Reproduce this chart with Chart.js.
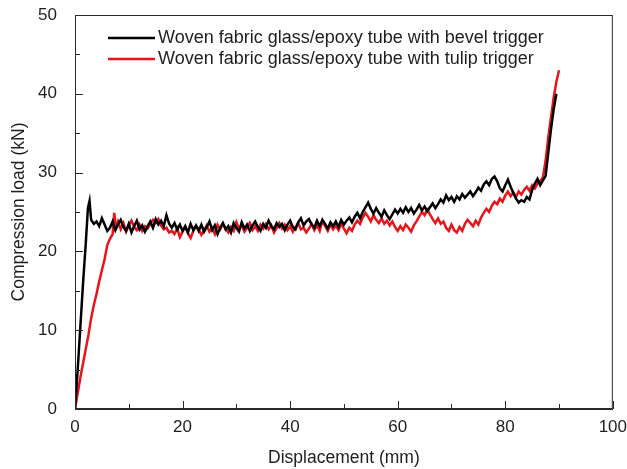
<!DOCTYPE html>
<html>
<head>
<meta charset="utf-8">
<script src="https://cdn.jsdelivr.net/npm/chart.js@4"></script>
<style>
  html, body { margin: 0; padding: 0; background: #fff; }
  #wrap { width: 627px; height: 469px; position: relative; }
</style>
</head>
<body>
<div id="wrap"><canvas id="chart"></canvas></div>
<script>
const seriesLabels = [
  'Woven fabric glass/epoxy tube with bevel trigger',
  'Woven fabric glass/epoxy tube with tulip trigger'
];

// bevel trigger: displacement (mm) / load (kN)
const dispBevel = [
  0, 0.5, 1, 1.5, 2, 2.4, 2.7, 3,
  3.5, 4, 4.5, 5, 5.5, 6, 6.5, 7, 7.5, 8,
  8.5, 9, 9.5, 10, 10.5, 11, 11.5, 12, 12.5, 13,
  13.5, 14, 14.5, 15, 15.5, 16, 16.5, 17, 17.5, 18,
  18.5, 19, 19.5, 20, 20.5, 21, 21.5, 22, 22.5, 23,
  23.5, 24, 24.5, 25, 25.5, 26, 26.5, 27, 27.5, 28,
  28.5, 29, 29.5, 30, 30.5, 31, 31.5, 32, 32.5, 33,
  33.5, 34, 34.5, 35, 35.5, 36, 36.5, 37, 37.5, 38,
  38.5, 39, 39.5, 40, 40.5, 41, 41.5, 42, 42.5, 43,
  43.5, 44, 44.5, 45, 45.5, 46, 46.5, 47, 47.5, 48,
  48.5, 49, 49.5, 50, 50.5, 51, 51.5, 52, 52.5, 53,
  53.5, 54, 54.5, 55, 55.5, 56, 56.5, 57, 57.5, 58,
  58.5, 59, 59.5, 60, 60.5, 61, 61.5, 62, 62.5, 63,
  63.5, 64, 64.5, 65, 65.5, 66, 66.5, 67, 67.5, 68,
  68.5, 69, 69.5, 70, 70.5, 71, 71.5, 72, 72.5, 73,
  73.5, 74, 74.5, 75, 75.5, 76, 76.5, 77, 77.5, 78,
  78.5, 79, 79.5, 80, 80.5, 81, 81.5, 82, 82.5, 83,
  83.5, 84, 84.5, 85, 85.5, 86, 86.5, 87, 87.5, 88,
  88.5, 89, 89.5
];
const loadBevel = [
  0, 5, 10.5, 16, 21, 25.5, 26.4, 24,
  23.5, 23.8, 23.2, 24.2, 23.4, 22.6, 23.0, 23.8, 22.7, 23.4,
  24.0, 23.1, 22.6, 23.5, 22.4, 23.2, 23.9, 22.8, 23.3, 22.5,
  23.2, 23.8, 23.0, 24.1, 23.4, 23.9, 23.2, 24.6, 23.5, 23.0,
  23.6, 22.8, 23.4, 22.6, 23.2, 22.4, 23.5, 22.7, 23.3, 22.6,
  23.4, 22.5, 23.1, 23.8, 22.7, 23.3, 22.2, 23.0, 23.6, 22.8,
  23.2, 22.4, 23.6, 23.0, 22.5, 23.7, 22.9, 23.4, 22.6, 23.3,
  23.8, 23.1, 22.6, 23.5, 23.0, 23.9, 23.2, 22.8, 23.6, 23.1,
  23.5, 22.7, 23.4, 23.9, 23.1, 22.8, 23.7, 24.2, 23.3, 23.8,
  24.1, 23.4, 23.0, 23.9, 23.2, 24.0, 23.5, 22.9, 23.7, 23.2,
  23.8, 23.1, 24.0, 23.4, 23.9, 24.3, 23.7, 24.4, 24.9, 24.2,
  25.0, 25.6, 26.2, 25.4, 24.8, 25.5, 24.9, 24.4, 25.2, 24.6,
  24.1, 24.7, 25.3, 24.8, 25.4, 24.9, 25.6, 25.0, 25.5, 24.8,
  25.3, 25.9, 25.2, 25.7, 25.1, 25.6, 26.1, 25.5, 26.0, 26.6,
  26.2, 27.1, 26.5, 26.9, 26.3, 27.0, 26.6, 27.3, 26.8, 27.2,
  27.6, 27.0, 27.5, 28.1, 27.7, 28.5, 28.9, 28.4, 29.2, 29.5,
  28.9, 28.0, 27.6, 28.4, 29.1, 28.2, 27.4, 26.7, 26.2, 26.5,
  26.3, 26.9, 26.6, 27.8, 28.6, 29.2, 28.4, 29.0, 29.6, 32.5,
  35.5, 38.0, 40.0
];

// tulip trigger: displacement (mm) / load (kN)
const dispTulip = [
  0, 0.5, 1, 1.5, 2, 2.5, 3, 3.5, 4, 4.5, 5, 5.5, 6, 6.5, 7, 7.3, 7.6, 8,
  8.5, 9, 9.5, 10, 10.5, 11, 11.5, 12, 12.5, 13,
  13.5, 14, 14.5, 15, 15.5, 16, 16.5, 17, 17.5, 18,
  18.5, 19, 19.5, 20, 20.5, 21, 21.5, 22, 22.5, 23,
  23.5, 24, 24.5, 25, 25.5, 26, 26.5, 27, 27.5, 28,
  28.5, 29, 29.5, 30, 30.5, 31, 31.5, 32, 32.5, 33,
  33.5, 34, 34.5, 35, 35.5, 36, 36.5, 37, 37.5, 38,
  38.5, 39, 39.5, 40, 40.5, 41, 41.5, 42, 42.5, 43,
  43.5, 44, 44.5, 45, 45.5, 46, 46.5, 47, 47.5, 48,
  48.5, 49, 49.5, 50, 50.5, 51, 51.5, 52, 52.5, 53,
  53.5, 54, 54.5, 55, 55.5, 56, 56.5, 57, 57.5, 58,
  58.5, 59, 59.5, 60, 60.5, 61, 61.5, 62, 62.5, 63,
  63.5, 64, 64.5, 65, 65.5, 66, 66.5, 67, 67.5, 68,
  68.5, 69, 69.5, 70, 70.5, 71, 71.5, 72, 72.5, 73,
  73.5, 74, 74.5, 75, 75.5, 76, 76.5, 77, 77.5, 78,
  78.5, 79, 79.5, 80, 80.5, 81, 81.5, 82, 82.5, 83,
  83.5, 84, 84.5, 85, 85.5, 86, 86.5, 87, 87.5, 88,
  88.5, 89, 89.5, 90
];
const loadTulip = [
  0, 2.0, 4.0, 5.8, 7.6, 9.4, 11.5, 13.2, 14.6, 16.2, 17.6, 19.0, 20.8, 21.6, 22.2, 24.9, 23.0, 23.8,
  22.8, 23.6, 22.5, 23.3, 23.9, 23.1, 22.7, 23.4, 22.6, 23.2,
  22.9, 23.5, 24.0, 23.6, 24.1, 23.3, 22.8, 23.0, 22.4, 22.6,
  22.2, 22.9, 21.8, 22.5, 23.1, 22.3, 21.7, 22.6, 23.2, 22.8,
  22.1, 22.7, 23.3, 22.5, 23.0, 22.2, 23.4, 22.8, 23.5, 22.9,
  22.4, 23.1, 22.6, 23.7, 22.9, 23.3, 22.5, 23.0, 23.6, 22.7,
  23.2, 22.6, 23.4, 22.9, 23.5, 22.8, 23.3, 22.4, 23.0, 23.6,
  22.9, 23.4, 22.7, 23.2, 22.5, 23.1, 23.6, 22.8, 23.0, 22.4,
  22.9, 23.5, 22.7, 23.3, 22.6, 23.9, 23.2, 22.6, 23.4, 22.8,
  23.3, 22.7, 23.5, 22.9, 22.3, 23.0, 22.6, 23.4, 23.9, 23.5,
  24.3, 24.9, 24.4, 23.8, 24.6, 24.0, 23.6, 24.2, 23.5, 23.9,
  23.3, 23.8, 23.1, 22.6, 23.2, 22.7, 23.4, 23.0, 22.5, 23.3,
  23.8, 24.4, 25.0, 24.6, 25.3, 24.7, 24.1, 23.6, 24.2, 23.5,
  23.8, 23.0, 22.6, 23.4, 22.7, 22.4, 23.1, 22.6, 23.5, 24.0,
  23.6, 23.2, 23.9, 23.4, 24.3, 24.9, 25.4, 25.0, 25.8, 26.3,
  26.0, 26.7, 26.3, 27.1, 27.6, 27.0, 27.5, 26.9, 27.6, 27.2,
  27.8, 28.2, 27.7, 28.4, 28.0, 28.6, 28.9, 29.4, 31.5, 34.5,
  37.0, 39.5, 41.5, 43.0
];

const xTicks = [0, 20, 40, 60, 80, 100];
const yTicks = [0, 10, 20, 30, 40, 50];
const xMinor = [10, 30, 50, 70, 90];
const yMinor = [5, 15, 25, 35, 45];

const fontFam = "Arial, 'Liberation Sans', sans-serif";
const axisColor = '#2a2a2a';
const textColor = '#1e1e1e';
const colors = ['#000000', '#e8141a'];

const toPoints = (xs, ys) => xs.map((x, i) => ({ x: x, y: ys[i] }));

// box around plot, inward ticks and the legend inside the plot
const framePlugin = {
  id: 'frame',
  afterDatasetsDraw(chart) {
    const { ctx, chartArea: a, scales: { x, y } } = chart;
    ctx.save();
    ctx.strokeStyle = axisColor;
    ctx.lineWidth = 1;
    ctx.strokeRect(a.left + 0.5, a.top + 0.5, a.right - a.left - 1, a.bottom - a.top - 1);
    ctx.beginPath();
    xTicks.forEach(v => { const p = Math.round(x.getPixelForValue(v)) + 0.5; ctx.moveTo(p, a.bottom); ctx.lineTo(p, a.bottom - 8); });
    xMinor.forEach(v => { const p = Math.round(x.getPixelForValue(v)) + 0.5; ctx.moveTo(p, a.bottom); ctx.lineTo(p, a.bottom - 5); });
    yTicks.forEach(v => { const p = Math.round(y.getPixelForValue(v)) + 0.5; ctx.moveTo(a.left, p); ctx.lineTo(a.left + 8, p); });
    yMinor.forEach(v => { const p = Math.round(y.getPixelForValue(v)) + 0.5; ctx.moveTo(a.left, p); ctx.lineTo(a.left + 5, p); });
    ctx.stroke();

    ctx.font = '18px ' + fontFam;
    ctx.textBaseline = 'middle';
    ctx.fillStyle = textColor;
    seriesLabels.forEach((lab, i) => {
      const ly = 38 + i * 21;
      ctx.strokeStyle = colors[i];
      ctx.lineWidth = 2.5;
      ctx.beginPath();
      ctx.moveTo(108, ly);
      ctx.lineTo(155, ly);
      ctx.stroke();
      ctx.fillText(lab, 158, ly);
    });
    ctx.restore();
  }
};

new Chart(document.getElementById('chart'), {
  type: 'line',
  data: {
    datasets: [
      { label: seriesLabels[0], data: toPoints(dispBevel, loadBevel), borderColor: colors[0], borderWidth: 2.5, pointRadius: 0, tension: 0 },
      { label: seriesLabels[1], data: toPoints(dispTulip, loadTulip), borderColor: colors[1], borderWidth: 2.5, pointRadius: 0, tension: 0 }
    ]
  },
  options: {
    responsive: true, maintainAspectRatio: false, animation: false,
    layout: { padding: { left: 0, top: 15, right: 10, bottom: 0 } },
    plugins: { legend: { display: false }, tooltip: { enabled: false } },
    scales: {
      x: {
        type: 'linear', min: 0, max: 100,
        afterFit: s => { s.height = 60; },
        afterBuildTicks: s => { s.ticks = xTicks.map(v => ({ value: v })); },
        grid: { display: false },
        border: { display: true, color: axisColor },
        ticks: { color: textColor, padding: 0, font: { family: fontFam, size: 17 }, maxRotation: 0 },
        title: { display: true, text: 'Displacement (mm)', color: textColor, font: { family: fontFam, size: 17.5 }, padding: { top: 12, bottom: 0 } }
      },
      y: {
        min: 0, max: 50,
        afterFit: s => { s.width = 75; s.paddingTop = 0; s.paddingBottom = 0; },
        afterBuildTicks: s => { s.ticks = yTicks.map(v => ({ value: v })); },
        grid: { display: false },
        border: { display: true, color: axisColor },
        ticks: { color: textColor, padding: 10, font: { family: fontFam, size: 17 } },
        title: { display: true, text: 'Compression load (kN)', color: textColor, font: { family: fontFam, size: 17.5 }, padding: { bottom: 0, top: 9 } }
      }
    }
  },
  plugins: [framePlugin]
});
</script>
</body>
</html>
